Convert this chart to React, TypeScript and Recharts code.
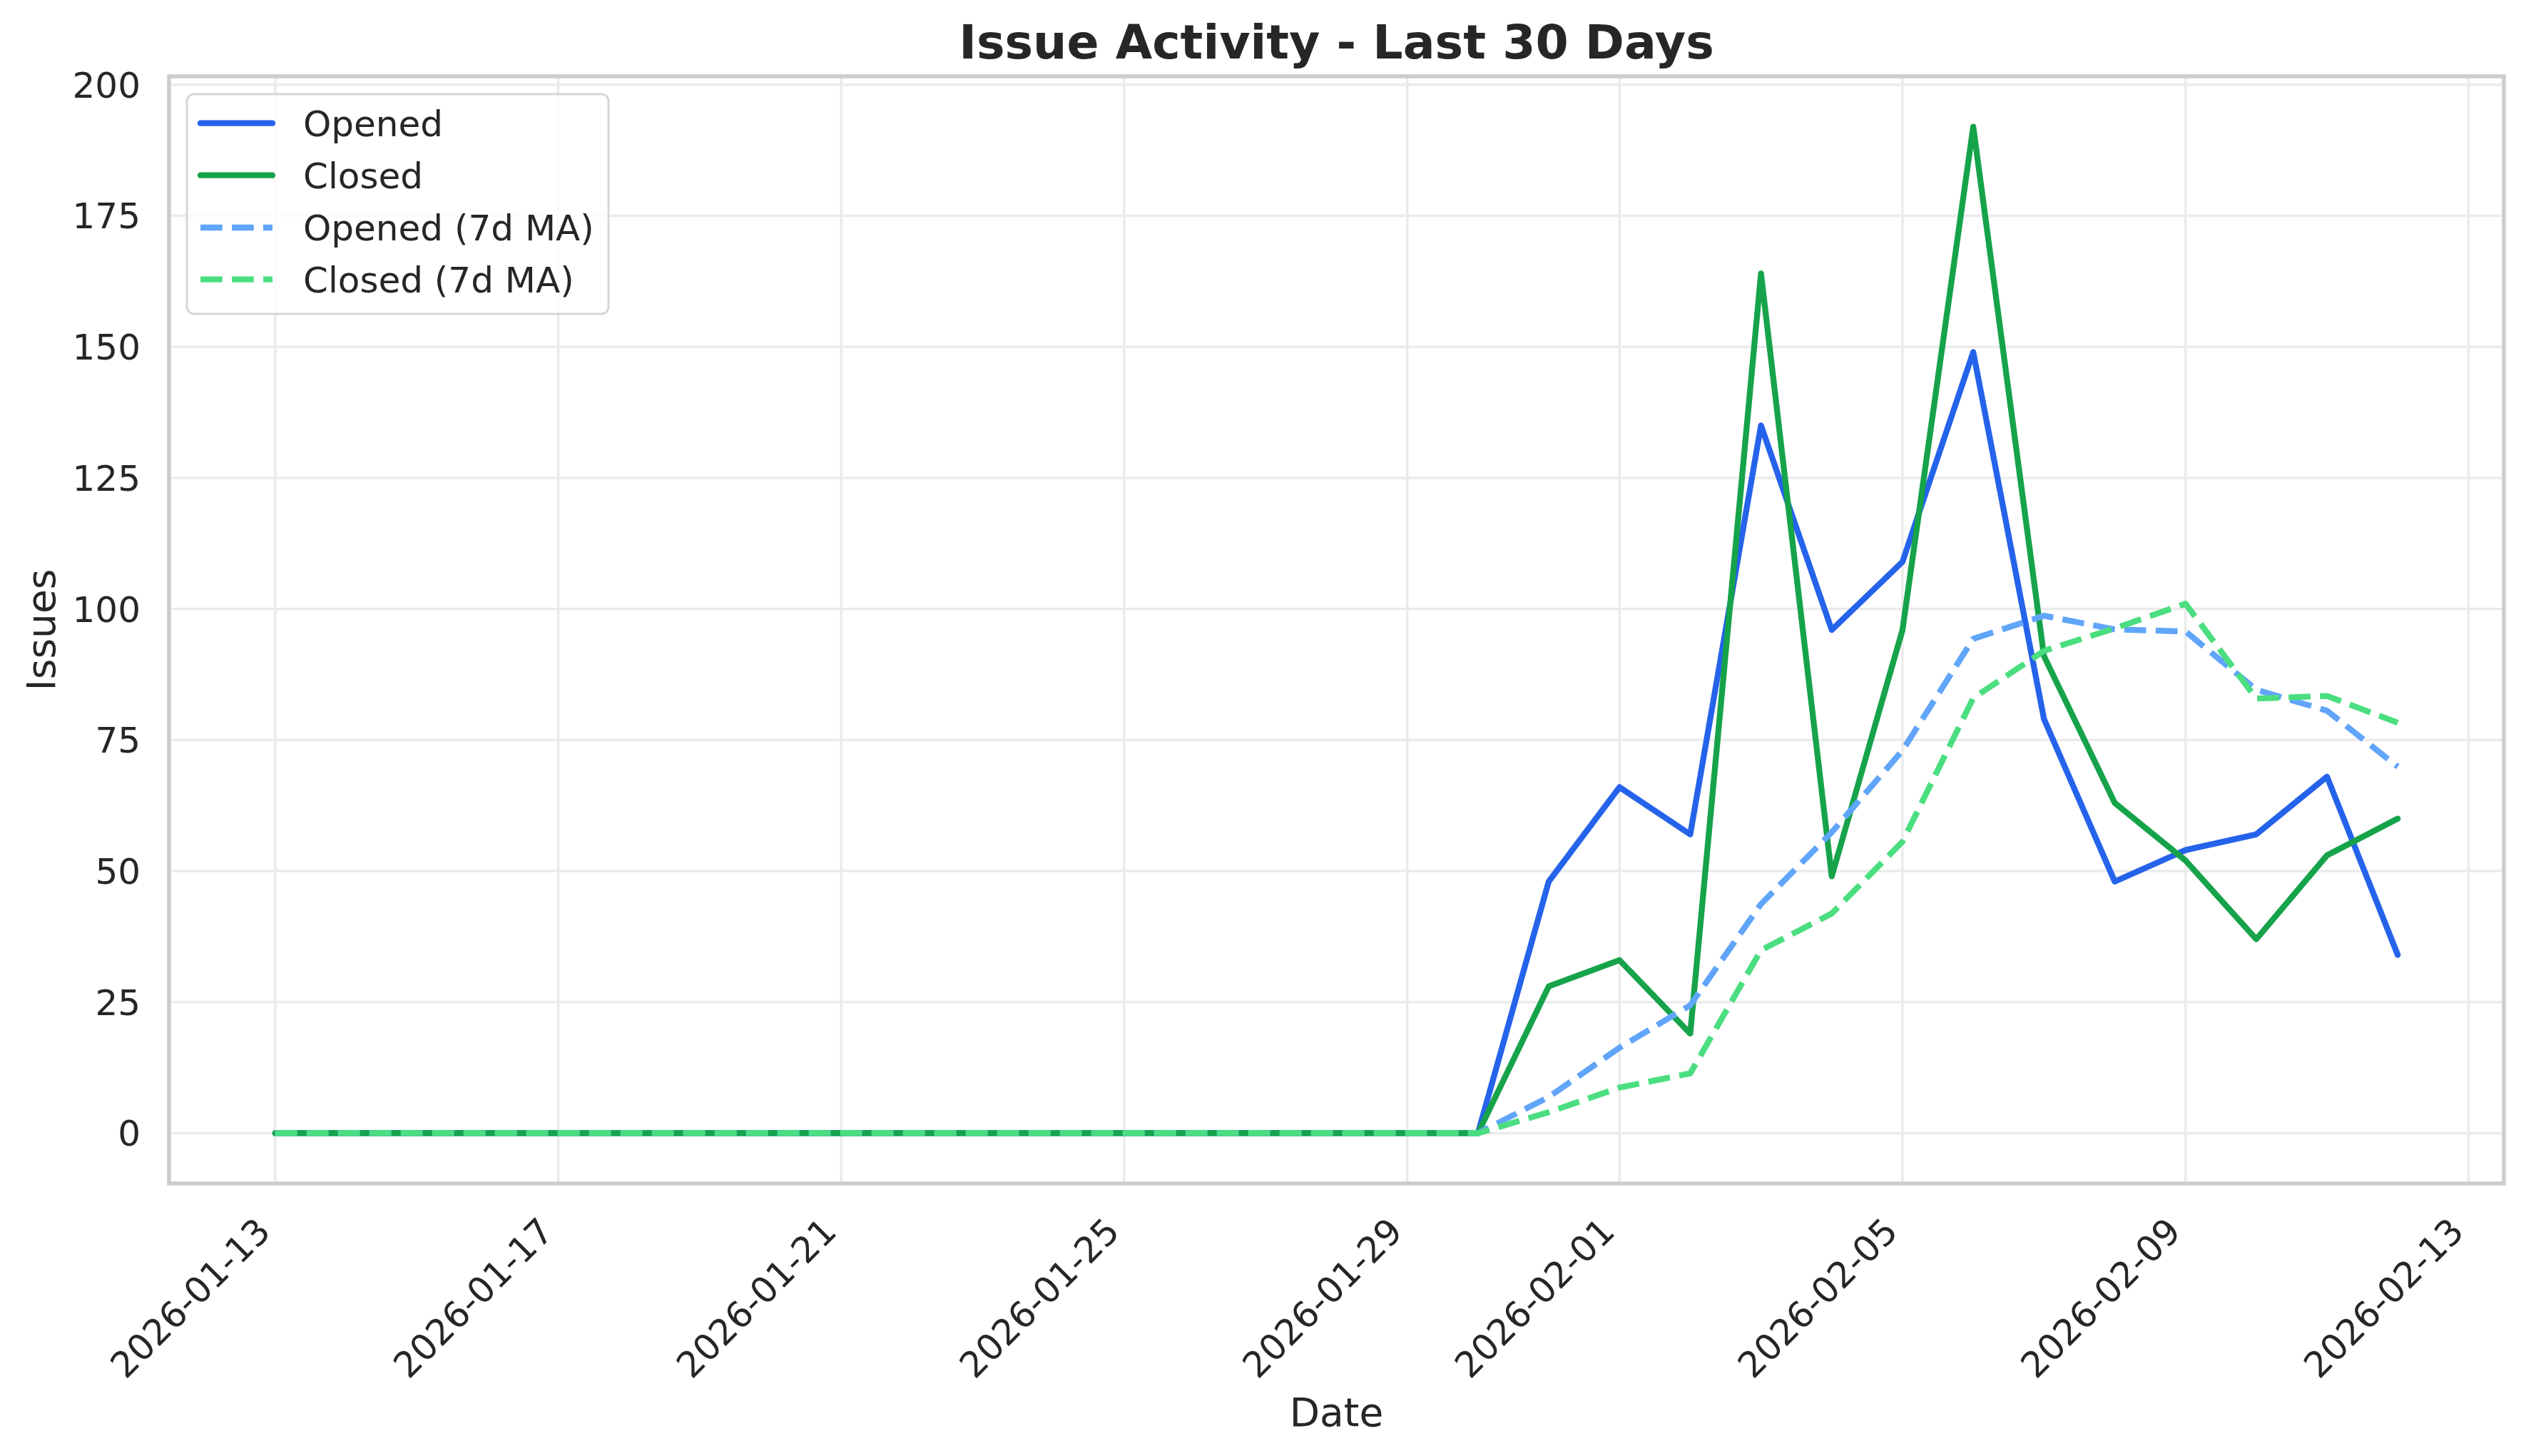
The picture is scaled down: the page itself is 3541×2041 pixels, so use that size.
import React from 'react';
import { LineChart, Line, XAxis, YAxis, CartesianGrid } from 'recharts';

// daily dates shown in the chart
const DATES = [
  '2026-01-13', '2026-01-14', '2026-01-15', '2026-01-16', '2026-01-17', '2026-01-18',
  '2026-01-19', '2026-01-20', '2026-01-21', '2026-01-22', '2026-01-23', '2026-01-24',
  '2026-01-25', '2026-01-26', '2026-01-27', '2026-01-28', '2026-01-29', '2026-01-30',
  '2026-01-31', '2026-02-01', '2026-02-02', '2026-02-03', '2026-02-04', '2026-02-05',
  '2026-02-06', '2026-02-07', '2026-02-08', '2026-02-09', '2026-02-10', '2026-02-11',
  '2026-02-12',
];

const OPENED = [
  0, 0, 0, 0, 0, 0, 0, 0, 0, 0, 0, 0, 0, 0, 0, 0, 0, 0,
  48, 66, 57, 135, 96, 109, 149, 79, 48, 54, 57, 68, 34,
];

const CLOSED = [
  0, 0, 0, 0, 0, 0, 0, 0, 0, 0, 0, 0, 0, 0, 0, 0, 0, 0,
  28, 33, 19, 164, 49, 96, 192, 91, 63, 52, 37, 53, 60,
];

const OPENED_MA = [
  0, 0, 0, 0, 0, 0, 0, 0, 0, 0, 0, 0, 0, 0, 0, 0, 0, 0,
  6.9, 16.3, 24.4, 43.7, 57.4, 73.0, 94.3, 98.7, 96.1, 95.7, 84.6, 80.6, 69.9,
];

const CLOSED_MA = [
  0, 0, 0, 0, 0, 0, 0, 0, 0, 0, 0, 0, 0, 0, 0, 0, 0, 0,
  4.0, 8.7, 11.4, 34.9, 41.9, 55.6, 83.0, 92.0, 96.3, 101.0, 82.9, 83.4, 78.3,
];

const X_TICK_LABELS = [
  '2026-01-13', '2026-01-17', '2026-01-21', '2026-01-25', '2026-01-29',
  '2026-02-01', '2026-02-05', '2026-02-09', '2026-02-13',
];

const Y_TICKS = [0, 25, 50, 75, 100, 125, 150, 175, 200];

const SERIES = [
  { key: 'opened', name: 'Opened', color: '#2563eb', dashed: false },
  { key: 'closed', name: 'Closed', color: '#16a34a', dashed: false },
  { key: 'openedMA', name: 'Opened (7d MA)', color: '#60a5fa', dashed: true },
  { key: 'closedMA', name: 'Closed (7d MA)', color: '#4ade80', dashed: true },
];

const DAY = 86400000;
const FONT = '"DejaVu Sans", sans-serif';
const TEXT = '#262626';
const W = 3541;
const H = 2041;
const LW = 8.3;
const DASH = '30.7 13.3';

const data = DATES.map((d, i) => ({
  t: Date.parse(d),
  opened: OPENED[i],
  closed: CLOSED[i],
  openedMA: OPENED_MA[i],
  closedMA: CLOSED_MA[i],
}));

const xTicks = X_TICK_LABELS.map((d) => Date.parse(d));
const xMin = Date.parse(DATES[0]) - 1.5 * DAY;
const xMax = Date.parse(DATES[DATES.length - 1]) + 1.5 * DAY;

const fmtDate = (t: number) => new Date(t).toISOString().slice(0, 10);

const XTick = ({ x, y, payload }: any) => {
  const ox = x - 4;
  const oy = y + 70;
  return (
    <text
      x={ox}
      y={oy}
      transform={`rotate(-45, ${ox}, ${oy})`}
      textAnchor="end"
      fontSize={50}
      fontFamily={FONT}
      fill={TEXT}
    >
      {fmtDate(payload.value)}
    </text>
  );
};

const YTick = ({ x, y, payload }: any) => (
  <text x={x - 40} y={y + 18} textAnchor="end" fontSize={50} fontFamily={FONT} fill={TEXT}>
    {payload.value}
  </text>
);

// plot area (matches the margins given to the chart below)
const PLOT = { left: 237, top: 107, right: 3510, bottom: 1659 };

const Overlay = () => {
  const rows = [172.7, 245.7, 319, 391.7];
  return (
    <svg
      width={W}
      height={H}
      style={{ position: 'absolute', left: 0, top: 0, pointerEvents: 'none' }}
    >
      <rect
        x={PLOT.left}
        y={PLOT.top}
        width={PLOT.right - PLOT.left}
        height={PLOT.bottom - PLOT.top}
        fill="none"
        stroke="#cccccc"
        strokeWidth={5.5}
      />
      <text
        x={(PLOT.left + PLOT.right) / 2}
        y={82}
        textAnchor="middle"
        fontSize={66.5}
        fontWeight="bold"
        fontFamily={FONT}
        fill={TEXT}
      >
        Issue Activity - Last 30 Days
      </text>
      <text x={(PLOT.left + PLOT.right) / 2} y={1999} textAnchor="middle" fontSize={55} fontFamily={FONT} fill={TEXT}>
        Date
      </text>
      <text
        x={77}
        y={(PLOT.top + PLOT.bottom) / 2}
        transform={`rotate(-90, 77, ${(PLOT.top + PLOT.bottom) / 2})`}
        textAnchor="middle"
        fontSize={55}
        fontFamily={FONT}
        fill={TEXT}
      >
        Issues
      </text>
      {/* legend */}
      <rect x={262} y={132} width={591} height={308} rx={10} fill="white" fillOpacity={0.8} stroke="#d6d6d6" strokeWidth={3} />
      {SERIES.map((s, i) => (
        <g key={s.key}>
          <line
            x1={281}
            x2={382}
            y1={rows[i]}
            y2={rows[i]}
            stroke={s.color}
            strokeWidth={LW}
            strokeDasharray={s.dashed ? DASH : undefined}
            strokeLinecap={s.dashed ? 'butt' : 'round'}
          />
          <text x={425} y={rows[i] + 18} fontSize={50} fontFamily={FONT} fill={TEXT}>
            {s.name}
          </text>
        </g>
      ))}
    </svg>
  );
};

export default function App() {
  return (
    <div style={{ position: 'absolute', left: 0, top: 0, width: W, height: H, background: '#fff' }}>
      <LineChart
        width={W}
        height={H}
        data={data}
        margin={{ top: PLOT.top, right: W - PLOT.right, bottom: H - PLOT.bottom - 300, left: PLOT.left - 200 }}
      >
        <CartesianGrid stroke="#ebebeb" strokeWidth={3.5} />
        <XAxis
          dataKey="t"
          type="number"
          domain={[xMin, xMax]}
          ticks={xTicks}
          height={300}
          axisLine={false}
          tickLine={false}
          tickSize={0}
          tickMargin={0}
          interval={0}
          tick={<XTick />}
        />
        <YAxis
          type="number"
          domain={[-9.6, 201.6]}
          ticks={Y_TICKS}
          width={200}
          axisLine={false}
          tickLine={false}
          tickSize={0}
          tickMargin={0}
          interval={0}
          tick={<YTick />}
        />
        {SERIES.map((s) => (
          <Line
            key={s.key}
            type="linear"
            dataKey={s.key}
            name={s.name}
            stroke={s.color}
            strokeWidth={LW}
            strokeDasharray={s.dashed ? DASH : undefined}
            strokeLinecap={s.dashed ? 'butt' : 'round'}
            strokeLinejoin="round"
            dot={false}
            activeDot={false}
            isAnimationActive={false}
          />
        ))}
      </LineChart>
      <Overlay />
    </div>
  );
}
